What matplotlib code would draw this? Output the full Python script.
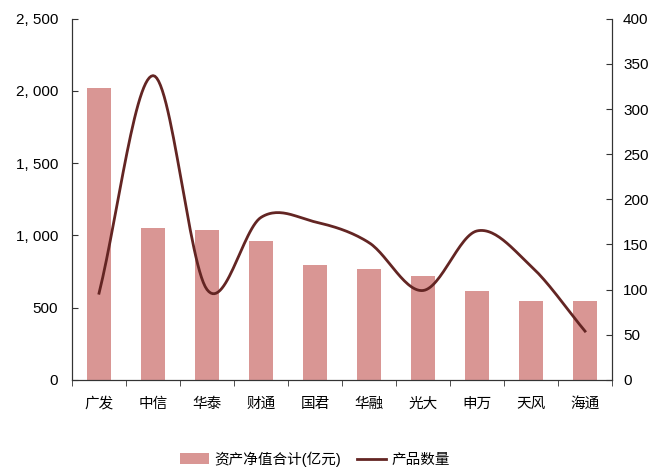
import numpy as np
import matplotlib.pyplot as plt
from matplotlib.ticker import FuncFormatter

plt.rcParams['font.family'] = ['Liberation Sans', 'Noto Sans CJK SC', 'DejaVu Sans']

companies = ['广发', '中信', '华泰', '财通', '国君', '华融', '光大', '申万', '天风', '海通']
net_assets = [2020, 1053, 1039, 963, 796, 769, 720, 616, 547, 547]
product_counts = [96, 337, 100, 180, 175, 152, 99, 165, 126, 54]

bar_color = '#D99694'
line_color = '#632523'


def smooth(xs, ys, n=30):
    # Catmull-Rom curve like Excel's smoothed line
    xs = np.asarray(xs, float)
    ys = np.asarray(ys, float)
    px = np.concatenate([[2*xs[0]-xs[1]], xs, [2*xs[-1]-xs[-2]]])
    py = np.concatenate([[2*ys[0]-ys[1]], ys, [2*ys[-1]-ys[-2]]])
    out_x, out_y = [], []
    t = np.linspace(0, 1, n)
    for i in range(1, len(px)-2):
        for p, out in ((px, out_x), (py, out_y)):
            p0, p1, p2, p3 = p[i-1], p[i], p[i+1], p[i+2]
            out.extend(0.5*((2*p1) + (-p0+p2)*t + (2*p0-5*p1+4*p2-p3)*t**2
                            + (-p0+3*p1-3*p2+p3)*t**3))
    return np.array(out_x), np.array(out_y)


fig = plt.figure(figsize=(6.49, 4.69), dpi=100)
ax = fig.add_axes([0.111, 0.19, 0.832, 0.77])
ax2 = ax.twinx()

x = np.arange(len(companies))
bars = ax.bar(x, net_assets, width=0.43, color=bar_color, label='资产净值合计(亿元)')
sx, sy = smooth(x, product_counts)
line, = ax2.plot(sx, sy, color=line_color, lw=2, label='产品数量')

ax.set_xlim(-0.5, len(companies) - 0.5)
ax.set_ylim(0, 2500)
ax2.set_ylim(0, 400)
ax.set_yticks(range(0, 2501, 500))
ax2.set_yticks(range(0, 401, 50))
ax.yaxis.set_major_formatter(FuncFormatter(lambda v, p: f'{int(v):,}'.replace(',', ', ')))

ax.set_xticks(x)
ax.set_xticklabels(companies, fontsize=10.5)
ax.set_xticks(np.arange(-0.5, len(companies), 1), minor=True)
ax.tick_params(axis='x', which='major', length=0, pad=12)
ax.tick_params(axis='x', which='minor', length=4, direction='out', color='#333333')
ax.tick_params(axis='y', direction='in', length=4, labelsize=11, pad=10, color='#333333')
ax2.tick_params(axis='y', direction='in', length=4, labelsize=11, pad=8, color='#333333')

for a in (ax, ax2):
    a.spines['top'].set_visible(False)
    for s in ('left', 'right', 'bottom'):
        a.spines[s].set_color('#333333')

fig.legend([bars, line], ['资产净值合计(亿元)', '产品数量'], loc='center',
           bbox_to_anchor=(0.485, 0.021), ncol=2, frameon=False, fontsize=10.5,
           handlelength=2.0, handleheight=0.75, handletextpad=0.35,
           columnspacing=1.1, borderpad=0)

fig.savefig('out.png', dpi=100)
